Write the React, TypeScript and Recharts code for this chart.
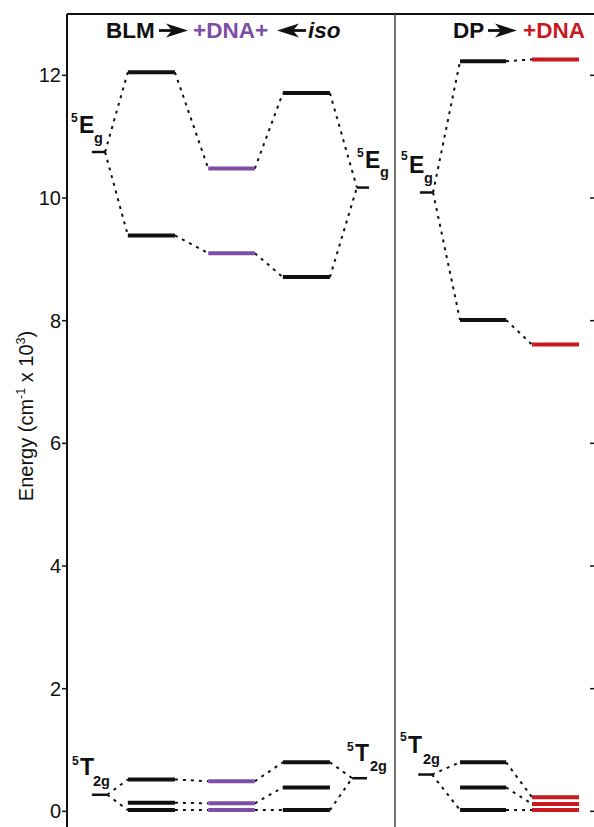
import React from 'react';
import { ComposedChart, Line, XAxis, YAxis, ReferenceLine, Customized } from 'recharts';

const FONT = '"Liberation Sans", Arial, Helvetica, sans-serif';
const BLACK = '#111111';
const PURPLE = '#7D4EA6';
const RED = '#C8191F';

// Energy axis ticks (cm^-1 x 10^3)
const energyTicks = [0, 2, 4, 6, 8, 10, 12];

// Diagram columns (horizontal positions in diagram units 0..100)
const columnIds = ['egBLM', 't2gBLM', 'BLM', 'BLM_DNA', 'iso', 'egIso', 't2gIso', 'egDP', 't2gDP', 'DP', 'DP_DNA'];
const columnStart = [4.7, 4.7, 11.5, 26.7, 40.8, 54.8, 53.9, 66.7, 66.4, 74.3, 87.9];
const columnEnd = [7.2, 7.6, 20.4, 35.5, 49.7, 57.1, 56.7, 69.2, 69.0, 83.0, 96.8];
const columnTone = ['free', 'free', 'black', 'purple', 'black', 'free', 'free', 'free', 'free', 'black', 'red'];

// Energy levels per column (cm^-1 x 10^3)
const egBLM = [10.75];
const t2gBLM = [0.27];
const BLM = [12.05, 9.39, 0.52, 0.14, 0.02];
const BLM_DNA = [10.48, 9.1, 0.49, 0.13, 0.02];
const iso = [11.71, 8.71, 0.8, 0.39, 0.02];
const egIso = [10.17];
const t2gIso = [0.54];
const egDP = [10.09];
const t2gDP = [0.6];
const DP = [12.23, 8.01, 0.8, 0.39, 0.02];
const DP_DNA = [12.26, 7.61, 0.23, 0.12, 0.02];

const levels: Record<string, number[]> = { egBLM, t2gBLM, BLM, BLM_DNA, iso, egIso, t2gIso, egDP, t2gDP, DP, DP_DNA };

// Correlation (dashed) connections: [fromColumn, fromLevel, toColumn, toLevel]
const connections: [string, number, string, number][] = [
  ['egBLM', 0, 'BLM', 0], ['egBLM', 0, 'BLM', 1],
  ['BLM', 0, 'BLM_DNA', 0], ['BLM', 1, 'BLM_DNA', 1],
  ['BLM_DNA', 0, 'iso', 0], ['BLM_DNA', 1, 'iso', 1],
  ['iso', 0, 'egIso', 0], ['iso', 1, 'egIso', 0],
  ['egDP', 0, 'DP', 0], ['egDP', 0, 'DP', 1],
  ['DP', 0, 'DP_DNA', 0], ['DP', 1, 'DP_DNA', 1],
  ['t2gBLM', 0, 'BLM', 2], ['t2gBLM', 0, 'BLM', 4],
  ['BLM', 2, 'BLM_DNA', 2], ['BLM', 3, 'BLM_DNA', 3], ['BLM', 4, 'BLM_DNA', 4],
  ['BLM_DNA', 2, 'iso', 2], ['BLM_DNA', 3, 'iso', 3], ['BLM_DNA', 4, 'iso', 4],
  ['iso', 2, 't2gIso', 0], ['iso', 4, 't2gIso', 0],
  ['t2gDP', 0, 'DP', 2], ['t2gDP', 0, 'DP', 4],
  ['DP', 2, 'DP_DNA', 2], ['DP', 3, 'DP_DNA', 3], ['DP', 4, 'DP_DNA', 4],
];

const panelDivider = 62;

const colIndex = (id: string) => columnIds.indexOf(id);
const toneColor = (t: string) => (t === 'purple' ? PURPLE : t === 'red' ? RED : BLACK);

function Arrow({ x, y, dir }: { x: number; y: number; dir: 1 | -1 }) {
  // x = back (shaft) end, dir = 1 points right
  const p = (dx: number, dy: number) => `${x + dir * dx},${y + dy}`;
  return (
    <g fill={BLACK} stroke="none">
      <polygon points={`${p(0, -1.4)} ${p(14, -1.4)} ${p(14, 1.4)} ${p(0, 1.4)}`} />
      <polygon points={`${p(7, -7)} ${p(29, 0)} ${p(7, 7)} ${p(13, 0)}`} />
    </g>
  );
}

function StateLabel({ sx, sy, mx, my, bx, by, main, sub }: any) {
  return (
    <g fontFamily={FONT} fontWeight="bold" fill={BLACK}>
      <text x={sx} y={sy} fontSize={12}>5</text>
      <text x={mx} y={my} fontSize={23}>{main}</text>
      <text x={bx} y={by} fontSize={14.5}>{sub}</text>
    </g>
  );
}

function Overlay() {
  return (
    <g>
      <g fontFamily={FONT} fontWeight="bold" fontSize={22.5}>
        <text x={106} y={38} fill={BLACK}>BLM</text>
        <text x={193} y={38} fill={PURPLE}>+DNA+</text>
        <text x={308} y={38} fill={BLACK} fontStyle="italic">iso</text>
        <text x={453} y={38} fill={BLACK}>DP</text>
        <text x={523} y={38} fill={RED}>+DNA</text>
      </g>
      <Arrow x={159} y={30.5} dir={1} />
      <Arrow x={306} y={30.5} dir={-1} />
      <Arrow x={488} y={30.5} dir={1} />
      <text
        transform="translate(33,416) rotate(-90)"
        textAnchor="middle"
        fontFamily={FONT}
        fontSize={20}
        fill={BLACK}
      >
        <tspan>Energy (cm</tspan>
        <tspan fontSize={12.5} dy={-8}>-1</tspan>
        <tspan dy={8}> x 10</tspan>
        <tspan fontSize={12.5} dy={-8}>3</tspan>
        <tspan dy={8}>)</tspan>
      </text>
      <StateLabel sx={71} sy={122} mx={79} my={133} bx={94} by={143} main="E" sub="g" />
      <StateLabel sx={357} sy={157} mx={365} my={168} bx={380} by={177} main="E" sub="g" />
      <StateLabel sx={401} sy={160} mx={409} my={173} bx={424} by={183} main="E" sub="g" />
      <StateLabel sx={72} sy={765} mx={80} my={775} bx={93} by={786} main="T" sub="2g" />
      <StateLabel sx={347} sy={751} mx={355} my={761} bx={370} by={771} main="T" sub="2g" />
      <StateLabel sx={400} sy={741} mx={408} my={753} bx={423} by={764} main="T" sub="2g" />
    </g>
  );
}

export default function App() {
  const connectorLines = connections.map(([fc, fi, tc, ti], k) => {
    const a = colIndex(fc);
    const b = colIndex(tc);
    const data = [
      { x: columnEnd[a], y: levels[fc][fi] },
      { x: columnStart[b], y: levels[tc][ti] },
    ];
    return (
      <Line
        key={`c${k}`}
        data={data}
        dataKey="y"
        type="linear"
        stroke={BLACK}
        strokeWidth={2}
        strokeDasharray="3 5"
        dot={false}
        activeDot={false}
        isAnimationActive={false}
        legendType="none"
      />
    );
  });

  const levelLines: React.ReactNode[] = [];
  columnIds.forEach((id, ci) => {
    levels[id].forEach((e, li) => {
      const tone = columnTone[ci];
      levelLines.push(
        <Line
          key={`l${ci}-${li}`}
          data={[
            { x: columnStart[ci], y: e },
            { x: columnEnd[ci], y: e },
          ]}
          dataKey="y"
          type="linear"
          stroke={toneColor(tone)}
          strokeWidth={tone === 'free' ? 2.5 : 4}
          strokeLinecap="butt"
          dot={false}
          activeDot={false}
          isAnimationActive={false}
          legendType="none"
        />
      );
    });
  });

  return (
    <div style={{ position: 'absolute', left: 0, top: 0, width: 594, height: 827, overflow: 'hidden', background: '#fff' }}>
      <ComposedChart width={596} height={850} margin={{ top: 14, right: 0, bottom: 8, left: 0 }}>
        <XAxis type="number" dataKey="x" domain={[0, 100]} hide allowDataOverflow />
        <YAxis
          yAxisId={0}
          type="number"
          domain={[-0.5, 13]}
          ticks={energyTicks}
          allowDataOverflow
          width={67}
          axisLine={{ stroke: BLACK, strokeWidth: 2 }}
          tickLine={{ stroke: BLACK, strokeWidth: 1.5 }}
          tickSize={5}
          tickMargin={1}
          tick={{ fill: BLACK, fontSize: 20, fontFamily: FONT }}
        />
        <YAxis
          yAxisId="right"
          orientation="right"
          mirror
          type="number"
          domain={[-0.5, 13]}
          ticks={energyTicks}
          allowDataOverflow
          width={6}
          axisLine={false}
          tickLine={{ stroke: BLACK, strokeWidth: 1.5 }}
          tickSize={6}
          tickFormatter={() => ''}
        />
        <ReferenceLine y={13} stroke={BLACK} strokeWidth={2} />
        <ReferenceLine x={panelDivider} stroke="#444" strokeWidth={1.5} />
        {connectorLines}
        {levelLines}
        <Customized component={<Overlay />} />
      </ComposedChart>
    </div>
  );
}
